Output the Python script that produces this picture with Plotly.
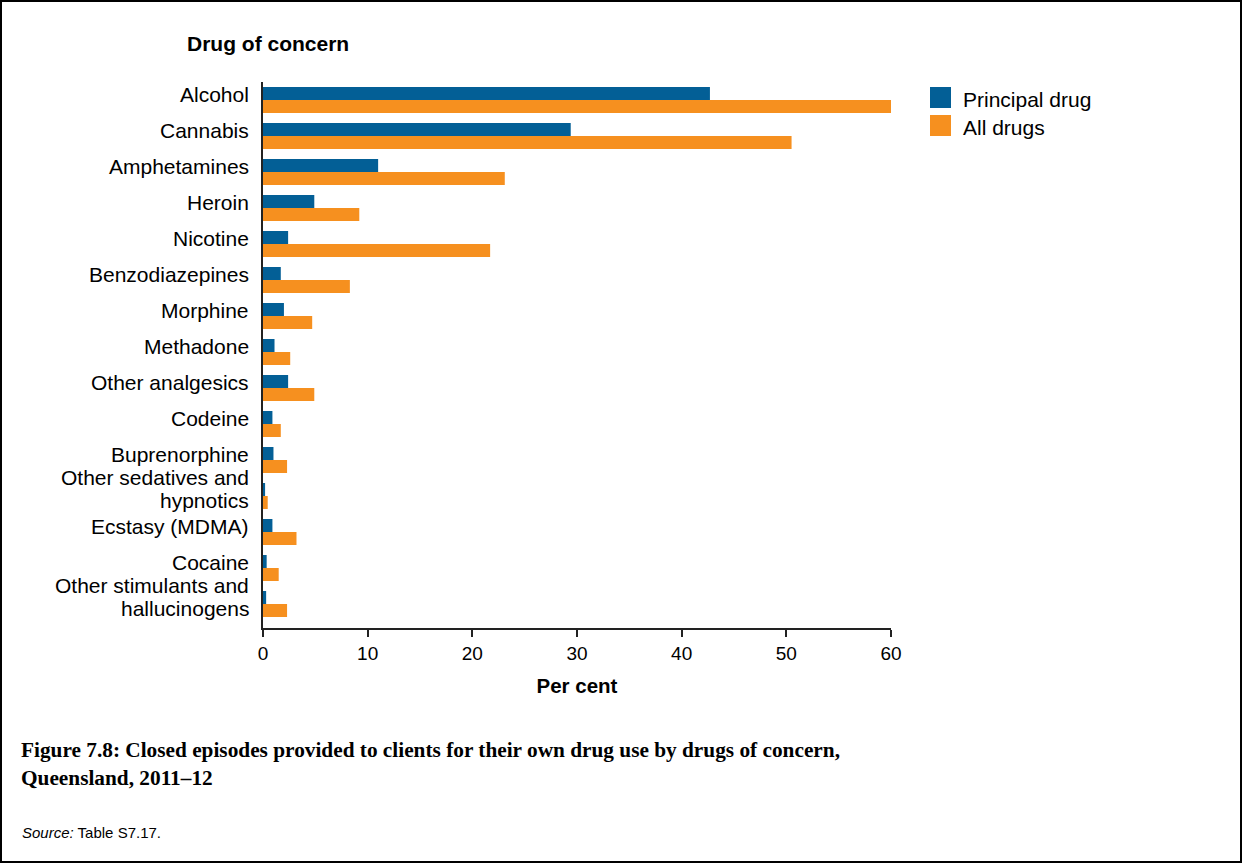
import plotly.graph_objects as go

drugs = [
    "Alcohol", "Cannabis", "Amphetamines", "Heroin", "Nicotine",
    "Benzodiazepines", "Morphine", "Methadone", "Other analgesics", "Codeine",
    "Buprenorphine", "Other sedatives and<br>hypnotics", "Ecstasy (MDMA)", "Cocaine",
    "Other stimulants and<br>hallucinogens",
]
principal_drug = [42.7, 29.4, 11.0, 4.9, 2.4, 1.7, 2.0, 1.1, 2.4, 0.9, 1.0, 0.2, 0.9, 0.35, 0.3]
all_drugs = [60.0, 50.5, 23.1, 9.2, 21.7, 8.3, 4.7, 2.6, 4.9, 1.7, 2.3, 0.45, 3.2, 1.5, 2.3]
x_ticks = [0, 10, 20, 30, 40, 50, 60]

BLUE = "#035f96"
ORANGE = "#f6901f"
SANS = "Liberation Sans, Arial, sans-serif"
SERIF = "Liberation Serif, Times New Roman, serif"

# plot area in pixels
L, R, T, B = 263, 891, 82, 628
W, H = R - L, B - T
BAND = 36  # px per category


def px(x):
    return (x - L) / W


def py(y):
    return (B - y) / H


fig = go.Figure()
fig.add_trace(go.Bar(y=drugs, x=principal_drug, orientation="h", name="Principal drug",
                     marker=dict(color=BLUE, line=dict(width=0)), showlegend=False))
fig.add_trace(go.Bar(y=drugs, x=all_drugs, orientation="h", name="All drugs",
                     marker=dict(color=ORANGE, line=dict(width=0)), showlegend=False))

# category labels as annotations, sitting slightly above the band centre;
# two-line labels get one annotation per line for tighter leading
for d in drugs:
    lines = d.split("<br>")
    n = len(lines)
    for k, line in enumerate(lines):
        shift = 6 if n == 1 else 18.5 - k * 23
        fig.add_annotation(x=0, xref="paper", y=d, yref="y", text=line, showarrow=False,
                           xanchor="right", yanchor="middle", align="right",
                           xshift=-12, yshift=shift,
                           font=dict(family=SANS, size=21, color="#000"))

fig.add_annotation(x=px(185), xref="paper", y=py(43), yref="paper", text="<b>Drug of concern</b>",
                   showarrow=False, xanchor="left", yanchor="middle",
                   font=dict(family=SANS, size=21, color="#000"))

# legend drawn by hand so the swatches are as big as in the original
for i, (name, color) in enumerate([("Principal drug", BLUE), ("All drugs", ORANGE)]):
    y0 = 87 + i * 28
    fig.add_shape(type="rect", xref="paper", yref="paper",
                  x0=px(930), x1=px(951), y0=py(y0 + 21), y1=py(y0),
                  fillcolor=color, line=dict(width=0))
    fig.add_annotation(x=px(961), xref="paper", y=py(y0 + 12), yref="paper", text=name,
                       showarrow=False, xanchor="left", yanchor="middle",
                       font=dict(family=SANS, size=21, color="#000"))

fig.update_layout(
    width=1242, height=863,
    margin=dict(l=L, r=1242 - R, t=T, b=863 - B),
    paper_bgcolor="white", plot_bgcolor="white",
    barmode="group", bargap=0.278, bargroupgap=0,
    xaxis=dict(range=[0, 60], tickvals=x_ticks, showgrid=False, zeroline=False,
               showline=True, linecolor="#222", linewidth=2,
               ticks="outside", ticklen=7, tickwidth=2, tickcolor="#222",
               tickfont=dict(family=SANS, size=19, color="#000"),
               title=dict(text="<b>Per cent</b>", standoff=16,
                          font=dict(family=SANS, size=20.5, color="#000"))),
    yaxis=dict(range=[-0.5 + H / BAND, -0.5], showticklabels=False, showgrid=False,
               zeroline=False, showline=True, linecolor="#222", linewidth=2, ticks=""),
)

fig.add_annotation(x=px(19), xref="paper", y=py(736), yref="paper",
                   text="<b>Figure 7.8: Closed episodes provided to clients for their own drug use by drugs of concern,<br>Queensland, 2011–12</b>",
                   showarrow=False, xanchor="left", yanchor="top", align="left",
                   font=dict(family=SERIF, size=21.3, color="#000"))
fig.add_annotation(x=px(20), xref="paper", y=py(832), yref="paper",
                   text="<i>Source:</i> Table S7.17.",
                   showarrow=False, xanchor="left", yanchor="middle", align="left",
                   font=dict(family=SANS, size=15, color="#000"))

fig.add_shape(type="rect", xref="paper", yref="paper",
              x0=px(1), x1=px(1241), y0=py(862), y1=py(1),
              line=dict(color="#000", width=2), fillcolor="rgba(0,0,0,0)")

fig.write_html("out.html", config={"displayModeBar": False},
               post_script="document.body.style.margin='0';document.body.style.overflow='hidden';")
